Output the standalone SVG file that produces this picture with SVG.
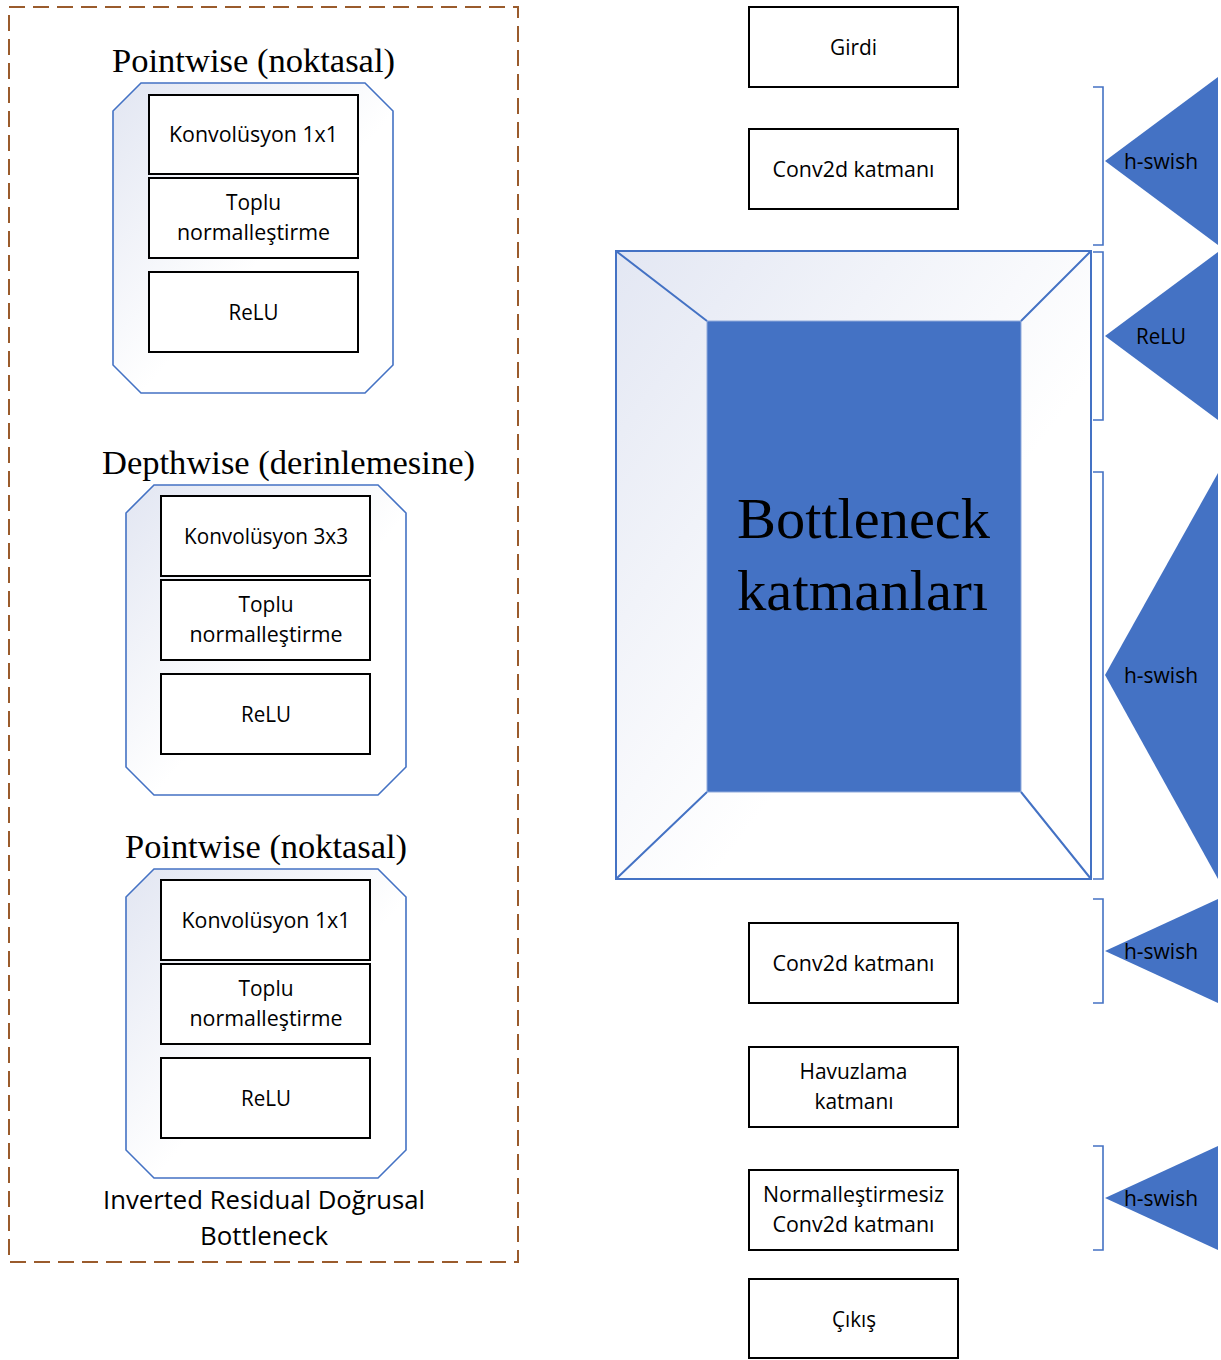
<svg xmlns="http://www.w3.org/2000/svg" width="1221" height="1360" viewBox="0 0 1221 1360">
<defs>
<linearGradient id="oct" x1="0" y1="0" x2="1" y2="1">
<stop offset="0" stop-color="#E2E6F2"/>
<stop offset="0.55" stop-color="#FFFFFF"/>
</linearGradient>
<linearGradient id="bev" x1="0" y1="0" x2="1" y2="1">
<stop offset="0" stop-color="#E3E7F3"/>
<stop offset="0.6" stop-color="#FFFFFF"/>
</linearGradient>
</defs>
<style>
.serif{font-family:"Liberation Serif","Times New Roman",serif;fill:#000}
.sans{font-family:"Open Sans","Liberation Sans",Arial,sans-serif;font-size:21px;fill:#000}
.big{font-size:26px}
.box{fill:#fff;stroke:#000;stroke-width:2}
.octagon{fill:url(#oct);stroke:#4472C4;stroke-width:1.6}
.bracket{fill:none;stroke:#4472C4;stroke-width:1.6}
.tri{fill:#4472C4}
.bevline{stroke:#4472C4;stroke-width:2;fill:none}
</style>
<rect width="1221" height="1360" fill="#fff"/>

<g id="module-frame">
<rect x="9" y="7" width="509" height="1255" fill="none" stroke="#9A5B2C" stroke-width="2" stroke-dasharray="16 8"/>
<text class="sans big" x="264" y="1209" text-anchor="middle" textLength="322" lengthAdjust="spacingAndGlyphs">Inverted Residual Doğrusal</text>
<text class="sans big" x="264" y="1245" text-anchor="middle" textLength="128" lengthAdjust="spacingAndGlyphs">Bottleneck</text>
</g>

<g id="pointwise-1">
<text class="serif" x="253.5" y="72" text-anchor="middle" font-size="34" textLength="283" lengthAdjust="spacingAndGlyphs">Pointwise (noktasal)</text>
<polygon class="octagon" points="113,111 141,83 365,83 393,111 393,365 365,393 141,393 113,365"/>
<rect class="box" x="149" y="95" width="209" height="79"/>
<text class="sans" x="253.5" y="142" text-anchor="middle" textLength="169" lengthAdjust="spacingAndGlyphs">Konvolüsyon 1x1</text>
<rect class="box" x="149" y="178" width="209" height="80"/>
<text class="sans" x="253.5" y="210" text-anchor="middle" textLength="55" lengthAdjust="spacingAndGlyphs">Toplu</text>
<text class="sans" x="253.5" y="240" text-anchor="middle" textLength="153" lengthAdjust="spacingAndGlyphs">normalleştirme</text>
<rect class="box" x="149" y="272" width="209" height="80"/>
<text class="sans" x="253.5" y="320" text-anchor="middle" textLength="50" lengthAdjust="spacingAndGlyphs">ReLU</text>
</g>

<g id="depthwise">
<text class="serif" x="288.5" y="474" text-anchor="middle" font-size="34" textLength="373" lengthAdjust="spacingAndGlyphs">Depthwise (derinlemesine)</text>
<polygon class="octagon" points="126,513 154,485 378,485 406,513 406,767 378,795 154,795 126,767"/>
<rect class="box" x="161" y="496" width="209" height="80"/>
<text class="sans" x="266" y="544" text-anchor="middle" textLength="164" lengthAdjust="spacingAndGlyphs">Konvolüsyon 3x3</text>
<rect class="box" x="161" y="580" width="209" height="80"/>
<text class="sans" x="266" y="612" text-anchor="middle" textLength="55" lengthAdjust="spacingAndGlyphs">Toplu</text>
<text class="sans" x="266" y="642" text-anchor="middle" textLength="153" lengthAdjust="spacingAndGlyphs">normalleştirme</text>
<rect class="box" x="161" y="674" width="209" height="80"/>
<text class="sans" x="266" y="722" text-anchor="middle" textLength="50" lengthAdjust="spacingAndGlyphs">ReLU</text>
</g>

<g id="pointwise-2">
<text class="serif" x="266" y="858" text-anchor="middle" font-size="34" textLength="282" lengthAdjust="spacingAndGlyphs">Pointwise (noktasal)</text>
<polygon class="octagon" points="126,897 154,869 378,869 406,897 406,1150 378,1178 154,1178 126,1150"/>
<rect class="box" x="161" y="880" width="209" height="80"/>
<text class="sans" x="266" y="928" text-anchor="middle" textLength="169" lengthAdjust="spacingAndGlyphs">Konvolüsyon 1x1</text>
<rect class="box" x="161" y="964" width="209" height="80"/>
<text class="sans" x="266" y="996" text-anchor="middle" textLength="55" lengthAdjust="spacingAndGlyphs">Toplu</text>
<text class="sans" x="266" y="1026" text-anchor="middle" textLength="153" lengthAdjust="spacingAndGlyphs">normalleştirme</text>
<rect class="box" x="161" y="1058" width="209" height="80"/>
<text class="sans" x="266" y="1106" text-anchor="middle" textLength="50" lengthAdjust="spacingAndGlyphs">ReLU</text>
</g>

<g id="girdi">
<rect class="box" x="749" y="7" width="209" height="80"/>
<text class="sans" x="853.5" y="55" text-anchor="middle" textLength="47" lengthAdjust="spacingAndGlyphs">Girdi</text>
</g>
<g id="conv2d-1">
<rect class="box" x="749" y="129" width="209" height="80"/>
<text class="sans" x="853.5" y="177" text-anchor="middle" textLength="162" lengthAdjust="spacingAndGlyphs">Conv2d katmanı</text>
</g>

<g id="bottleneck">
<rect x="616" y="251" width="475" height="628" fill="url(#bev)" stroke="#4472C4" stroke-width="2"/>
<rect x="707" y="321" width="314" height="471" fill="#4472C4" stroke="#8FAADC" stroke-width="1"/>
<path class="bevline" d="M616,251 L707,321 M1091,251 L1021,321 M616,879 L707,792 M1091,879 L1021,792"/>
<rect x="616" y="251" width="475" height="628" fill="none" stroke="#4472C4" stroke-width="2"/>
<text class="serif" x="863.5" y="538" text-anchor="middle" font-size="58" textLength="253" lengthAdjust="spacingAndGlyphs">Bottleneck</text>
<text class="serif" x="862.5" y="610" text-anchor="middle" font-size="58" textLength="251" lengthAdjust="spacingAndGlyphs">katmanları</text>
</g>

<g id="conv2d-2">
<rect class="box" x="749" y="923" width="209" height="80"/>
<text class="sans" x="853.5" y="971" text-anchor="middle" textLength="162" lengthAdjust="spacingAndGlyphs">Conv2d katmanı</text>
</g>
<g id="havuzlama">
<rect class="box" x="749" y="1047" width="209" height="80"/>
<text class="sans" x="853.5" y="1079" text-anchor="middle" textLength="108" lengthAdjust="spacingAndGlyphs">Havuzlama</text>
<text class="sans" x="854" y="1109" text-anchor="middle" textLength="79" lengthAdjust="spacingAndGlyphs">katmanı</text>
</g>
<g id="normsiz-conv2d">
<rect class="box" x="749" y="1170" width="209" height="80"/>
<text class="sans" x="853.5" y="1202" text-anchor="middle" textLength="181" lengthAdjust="spacingAndGlyphs">Normalleştirmesiz</text>
<text class="sans" x="853.5" y="1232" text-anchor="middle" textLength="162" lengthAdjust="spacingAndGlyphs">Conv2d katmanı</text>
</g>
<g id="cikis">
<rect class="box" x="749" y="1279" width="209" height="79"/>
<text class="sans" x="854" y="1327" text-anchor="middle" textLength="44" lengthAdjust="spacingAndGlyphs">Çıkış</text>
</g>

<g id="connectors">
<path class="bracket" d="M1093,87 H1103 V245 H1093"/>
<path class="bracket" d="M1093,252 H1103 V420 H1093"/>
<path class="bracket" d="M1093,472 H1103 V879 H1093"/>
<path class="bracket" d="M1093,899 H1103 V1003 H1093"/>
<path class="bracket" d="M1093,1146 H1103 V1250 H1093"/>
</g>

<g id="act-hswish-1">
<polygon class="tri" points="1218,77 1105,161 1218,245"/>
<text class="sans" x="1161" y="169" text-anchor="middle" textLength="74" lengthAdjust="spacingAndGlyphs">h-swish</text>
</g>
<g id="act-relu">
<polygon class="tri" points="1218,252 1105,336 1218,420"/>
<text class="sans" x="1161" y="344" text-anchor="middle" textLength="50" lengthAdjust="spacingAndGlyphs">ReLU</text>
</g>
<g id="act-hswish-2">
<polygon class="tri" points="1218,473 1105,675 1218,879"/>
<text class="sans" x="1161" y="683" text-anchor="middle" textLength="74" lengthAdjust="spacingAndGlyphs">h-swish</text>
</g>
<g id="act-hswish-3">
<polygon class="tri" points="1218,899 1105,951 1218,1003"/>
<text class="sans" x="1161" y="959" text-anchor="middle" textLength="74" lengthAdjust="spacingAndGlyphs">h-swish</text>
</g>
<g id="act-hswish-4">
<polygon class="tri" points="1218,1146 1105,1198 1218,1250"/>
<text class="sans" x="1161" y="1206" text-anchor="middle" textLength="74" lengthAdjust="spacingAndGlyphs">h-swish</text>
</g>
</svg>
